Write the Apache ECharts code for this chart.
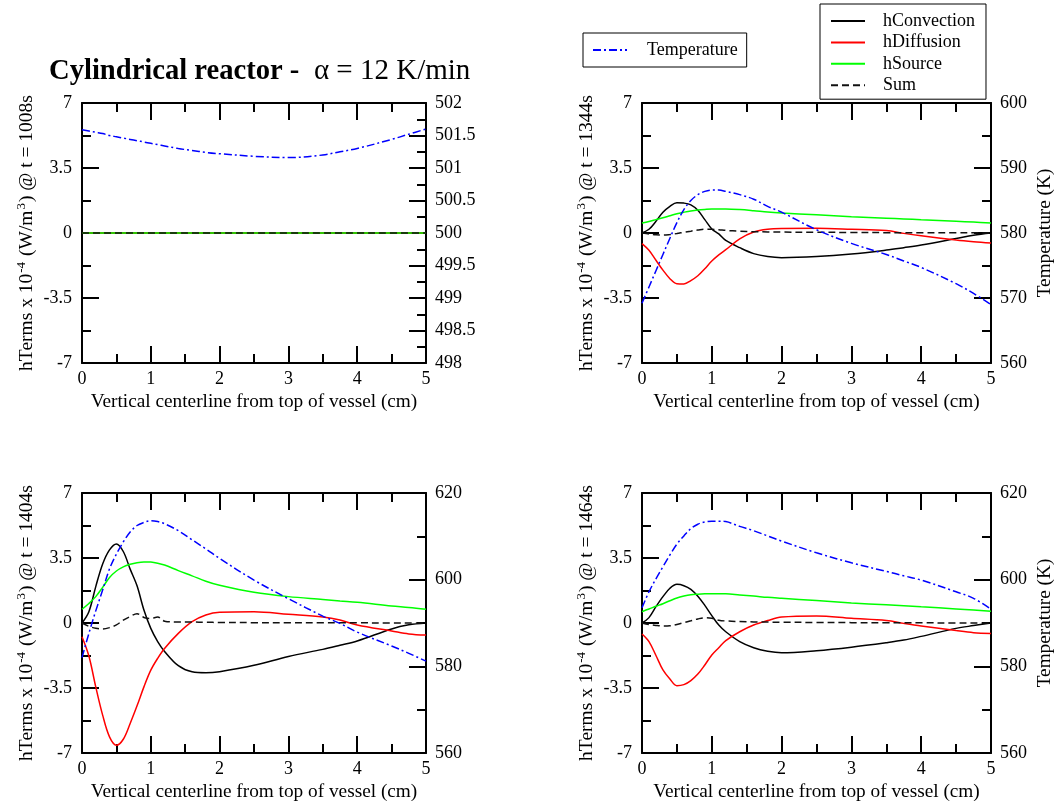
<!DOCTYPE html>
<html>
<head>
<meta charset="utf-8">
<script src="https://cdn.jsdelivr.net/npm/echarts@6/dist/echarts.min.js"></script>
<style>
  html, body { margin: 0; padding: 0; background: #fff; }
  #chart { width: 1060px; height: 806px; }
</style>
</head>
<body>
<div id="chart"></div>
<script>
// Position along the vertical centerline (cm)
const xPos = [0, 0.1, 0.2, 0.3, 0.4, 0.5, 0.6, 0.7, 0.8, 0.9, 1.0, 1.1, 1.2, 1.4, 1.6, 1.8, 2.0, 2.5, 3.0, 3.5, 3.75, 4.0, 4.5, 4.75, 5.0];

// t = 1008 s
const p1Conv = [0, 0, 0, 0, 0, 0, 0, 0, 0, 0, 0, 0, 0, 0, 0, 0, 0, 0, 0, 0, 0, 0, 0, 0, 0];
const p1Diff = [0, 0, 0, 0, 0, 0, 0, 0, 0, 0, 0, 0, 0, 0, 0, 0, 0, 0, 0, 0, 0, 0, 0, 0, 0];
const p1Src  = [0, 0, 0, 0, 0, 0, 0, 0, 0, 0, 0, 0, 0, 0, 0, 0, 0, 0, 0, 0, 0, 0, 0, 0, 0];
const p1Sum  = [0, 0, 0, 0, 0, 0, 0, 0, 0, 0, 0, 0, 0, 0, 0, 0, 0, 0, 0, 0, 0, 0, 0, 0, 0];
const p1Temp = [501.59, 501.57, 501.55, 501.53, 501.50, 501.48, 501.46, 501.44, 501.42, 501.40, 501.38, 501.36, 501.34, 501.30, 501.27, 501.24, 501.22, 501.18, 501.16, 501.20, 501.25, 501.30, 501.44, 501.52, 501.60];

// t = 1344 s
const p2Conv = [0, 0.2, 0.63, 1.12, 1.44, 1.63, 1.61, 1.51, 1.22, 0.72, 0.22, -0.05, -0.4, -0.79, -1.11, -1.27, -1.33, -1.27, -1.13, -0.92, -0.79, -0.65, -0.3, -0.12, 0];
const p2Diff = [-0.57, -0.93, -1.47, -2.0, -2.46, -2.73, -2.74, -2.56, -2.3, -1.92, -1.51, -1.18, -0.9, -0.32, 0.05, 0.2, 0.24, 0.25, 0.2, 0.13, -0.02, -0.15, -0.38, -0.47, -0.54];
const p2Src  = [0.54, 0.62, 0.72, 0.82, 0.93, 1.04, 1.12, 1.19, 1.24, 1.27, 1.29, 1.29, 1.29, 1.26, 1.2, 1.13, 1.08, 0.98, 0.88, 0.8, 0.76, 0.71, 0.63, 0.59, 0.54];
const p2Sum  = [0, -0.05, -0.1, -0.11, -0.08, -0.03, 0.04, 0.1, 0.16, 0.21, 0.2, 0.18, 0.14, 0.1, 0.07, 0.06, 0.05, 0.04, 0.03, 0.02, 0.02, 0.01, 0.01, 0.01, 0];
const p2Temp = [569.2, 571.7, 574.2, 576.7, 579.2, 581.6, 583.6, 585.0, 585.9, 586.4, 586.6, 586.6, 586.4, 585.9, 585.2, 584.1, 583.2, 580.5, 578.4, 576.7, 575.7, 574.7, 572.2, 570.7, 569.0];

// t = 1404 s
const p3Conv = [0, 0.61, 1.96, 3.18, 3.94, 4.26, 3.85, 2.9, 2.0, 0.7, -0.29, -1.0, -1.53, -2.3, -2.63, -2.68, -2.62, -2.28, -1.8, -1.42, -1.2, -0.97, -0.32, -0.1, 0];
const p3Diff = [-0.74, -1.78, -3.44, -4.96, -6.13, -6.58, -6.26, -5.41, -4.46, -3.44, -2.54, -1.9, -1.37, -0.56, 0.07, 0.43, 0.58, 0.61, 0.47, 0.32, 0.16, -0.11, -0.43, -0.59, -0.65];
const p3Src  = [0.74, 1.05, 1.42, 1.92, 2.45, 2.8, 3.02, 3.16, 3.25, 3.29, 3.28, 3.22, 3.12, 2.82, 2.54, 2.25, 2.03, 1.65, 1.42, 1.27, 1.19, 1.12, 0.92, 0.84, 0.74];
const p3Sum  = [0, -0.18, -0.28, -0.32, -0.25, -0.1, 0.15, 0.35, 0.5, 0.3, 0.24, 0.32, 0.1, 0.05, 0.05, 0.04, 0.03, 0.02, 0.02, 0.01, 0.01, 0.01, 0, 0, 0];
const p3Temp = [582.0, 587.6, 592.8, 597.6, 602.5, 605.9, 608.7, 611.0, 612.5, 613.2, 613.6, 613.4, 612.9, 611.3, 609.2, 607.1, 604.9, 599.9, 595.6, 591.6, 589.9, 587.9, 584.7, 583.0, 581.2];

// t = 1464 s
const p4Conv = [0, 0.29, 0.88, 1.42, 1.87, 2.08, 2.01, 1.81, 1.44, 0.95, 0.4, -0.11, -0.47, -1.0, -1.33, -1.52, -1.6, -1.49, -1.3, -1.06, -0.92, -0.72, -0.29, -0.14, 0];
const p4Diff = [-0.59, -1.0, -1.75, -2.53, -3.02, -3.38, -3.32, -3.1, -2.75, -2.26, -1.72, -1.33, -0.95, -0.47, -0.11, 0.13, 0.32, 0.38, 0.25, 0.13, -0.02, -0.16, -0.41, -0.52, -0.56];
const p4Src  = [0.61, 0.75, 0.9, 1.04, 1.2, 1.35, 1.45, 1.52, 1.55, 1.57, 1.58, 1.58, 1.57, 1.51, 1.45, 1.38, 1.33, 1.21, 1.08, 0.98, 0.93, 0.87, 0.76, 0.7, 0.63];
const p4Sum  = [0, -0.08, -0.13, -0.16, -0.15, -0.08, 0.02, 0.12, 0.22, 0.28, 0.25, 0.15, 0.11, 0.08, 0.06, 0.05, 0.04, 0.03, 0.02, 0.01, 0.01, 0.01, 0, 0, 0];
const p4Temp = [593.5, 597.2, 600.2, 603.0, 605.7, 608.2, 610.1, 611.8, 612.8, 613.3, 613.5, 613.5, 613.4, 612.3, 611.3, 610.1, 608.9, 606.2, 603.9, 601.9, 600.9, 599.9, 597.2, 595.7, 593.2];

// Snapshot times and temperature-axis ranges
const times = ['1008s', '1344s', '1404s', '1464s'];
const tempMin = [498, 560, 560, 560];
const tempMax = [502, 600, 620, 620];
const tempStep = [0.5, 10, 20, 20];
const hTermsTicks = [-7, -3.5, 0, 3.5, 7];
const xTicks = [0, 1, 2, 3, 4, 5];

const seriesNames = ['hConvection', 'hDiffusion', 'hSource', 'Sum', 'Temperature'];
const panelData = [
  [p1Conv, p1Diff, p1Src, p1Sum, p1Temp],
  [p2Conv, p2Diff, p2Src, p2Sum, p2Temp],
  [p3Conv, p3Diff, p3Src, p3Sum, p3Temp],
  [p4Conv, p4Diff, p4Src, p4Sum, p4Temp]
];

// Layout of the four plot frames
const frames = [
  { left: 82,  top: 103, width: 344, height: 260, tempTitle: false },
  { left: 642, top: 103, width: 349, height: 260, tempTitle: true },
  { left: 82,  top: 493, width: 344, height: 260, tempTitle: false },
  { left: 642, top: 493, width: 349, height: 260, tempTitle: true }
];

const FONT = 'Liberation Serif';
const lineStyles = [
  { color: '#000000', width: 1.5, type: 'solid' },
  { color: '#ff0000', width: 1.5, type: 'solid' },
  { color: '#00ff00', width: 1.5, type: 'solid' },
  { color: '#111111', width: 1.5, type: [7, 4] },
  { color: '#0000ff', width: 1.5, type: [8, 3, 2, 3] }
];

const frameLine = { show: true, onZero: false, lineStyle: { color: '#000', width: 2 } };
const majorTick = { show: true, inside: true, length: 17, lineStyle: { color: '#000', width: 2 } };
const minorTick = { show: true, splitNumber: 2, length: 9, lineStyle: { color: '#000', width: 2 } };
const tickLabel = { fontFamily: FONT, fontSize: 18, color: '#000' };

const grid = [], xAxis = [], yAxis = [], series = [];

frames.forEach((f, i) => {
  grid.push({ left: f.left, top: f.top, width: f.width, height: f.height, containLabel: false });

  // bottom axis with labels and title
  xAxis.push({
    type: 'value', gridIndex: i, position: 'bottom',
    min: xTicks[0], max: xTicks[xTicks.length - 1], interval: 1,
    axisLine: frameLine, axisTick: majorTick, minorTick: minorTick,
    splitLine: { show: false },
    axisLabel: Object.assign({ margin: 7 }, tickLabel),
    name: 'Vertical centerline from top of vessel (cm)',
    nameLocation: 'middle', nameGap: 29,
    nameTextStyle: { fontFamily: FONT, fontSize: 19.3, color: '#000' }
  });
  // top edge of the frame
  xAxis.push({
    type: 'value', gridIndex: i, position: 'top',
    min: xTicks[0], max: xTicks[xTicks.length - 1], interval: 1,
    axisLine: frameLine, axisTick: majorTick, minorTick: minorTick,
    splitLine: { show: false }, axisLabel: { show: false }
  });

  // left axis: heat terms
  yAxis.push({
    type: 'value', gridIndex: i, position: 'left',
    min: hTermsTicks[0], max: hTermsTicks[hTermsTicks.length - 1], interval: 3.5,
    axisLine: frameLine, axisTick: majorTick, minorTick: minorTick,
    splitLine: { show: false },
    axisLabel: Object.assign({ margin: 10 }, tickLabel),
    name: '{b|hTerms x 10}{s|-4}{b| (W/m}{s|3}{b|) @ t = ' + times[i] + '}',
    nameLocation: 'middle', nameGap: 45.5,
    nameTextStyle: {
      fontFamily: FONT, fontSize: 19.5, color: '#000',
      rich: {
        b: { fontFamily: FONT, fontSize: 19.5, color: '#000', lineHeight: 19.5, verticalAlign: 'bottom' },
        s: { fontFamily: FONT, fontSize: 13, color: '#000', lineHeight: 13, verticalAlign: 'bottom', padding: [0, 1, 8, 1] }
      }
    }
  });
  // right axis: temperature
  yAxis.push({
    type: 'value', gridIndex: i, position: 'right',
    min: tempMin[i], max: tempMax[i], interval: tempStep[i],
    axisLine: frameLine, axisTick: majorTick, minorTick: minorTick,
    splitLine: { show: false },
    axisLabel: Object.assign({ margin: 9 }, tickLabel),
    name: f.tempTitle ? 'Temperature (K)' : '',
    nameLocation: 'middle', nameGap: 44,
    nameTextStyle: { fontFamily: FONT, fontSize: 19.3, color: '#000' }
  });

  panelData[i].forEach((vals, k) => {
    series.push({
      type: 'line',
      name: seriesNames[k],
      xAxisIndex: 2 * i,
      yAxisIndex: k === 4 ? 2 * i + 1 : 2 * i,
      data: xPos.map((x, j) => [x, vals[j]]),
      smooth: 0.35,
      symbol: 'none',
      lineStyle: lineStyles[k],
      itemStyle: { color: lineStyles[k].color },
      animation: false,
      silent: true
    });
  });
});

const legendText = { fontFamily: FONT, fontSize: 18, color: '#000', lineHeight: 18 };

const option = {
  backgroundColor: '#ffffff',
  animation: false,
  title: {
    text: '{b|Cylindrical reactor -}{r|  \u03b1 = 12 K/min}',
    left: 49, top: 57, padding: 0,
    textStyle: {
      rich: {
        b: { fontFamily: FONT, fontSize: 28.6, fontWeight: 'bold', color: '#000', lineHeight: 29 },
        r: { fontFamily: FONT, fontSize: 29, fontWeight: 'normal', color: '#000', lineHeight: 29 }
      }
    }
  },
  legend: [
    {
      data: ['Temperature'],
      left: 583, top: 33, orient: 'horizontal',
      padding: [8, 9, 8, 9],
      itemWidth: 34, itemHeight: 14,
      borderColor: '#000', borderWidth: 1,
      selectedMode: false,
      itemStyle: { opacity: 0 },
      textStyle: Object.assign({ padding: [0, 0, 0, 15] }, legendText)
    },
    {
      data: ['hConvection', 'hDiffusion', 'hSource', 'Sum'],
      left: 820, top: 4, orient: 'vertical',
      padding: [8, 11, 5, 10], itemGap: 3.4,
      itemWidth: 34, itemHeight: 14,
      borderColor: '#000', borderWidth: 1,
      selectedMode: false,
      itemStyle: { opacity: 0 },
      textStyle: Object.assign({ padding: [0, 0, 0, 13] }, legendText)
    }
  ],
  grid: grid,
  xAxis: xAxis,
  yAxis: yAxis,
  series: series
};

const chart = echarts.init(document.getElementById('chart'), null, { renderer: 'canvas' });
chart.setOption(option);
</script>
</body>
</html>
